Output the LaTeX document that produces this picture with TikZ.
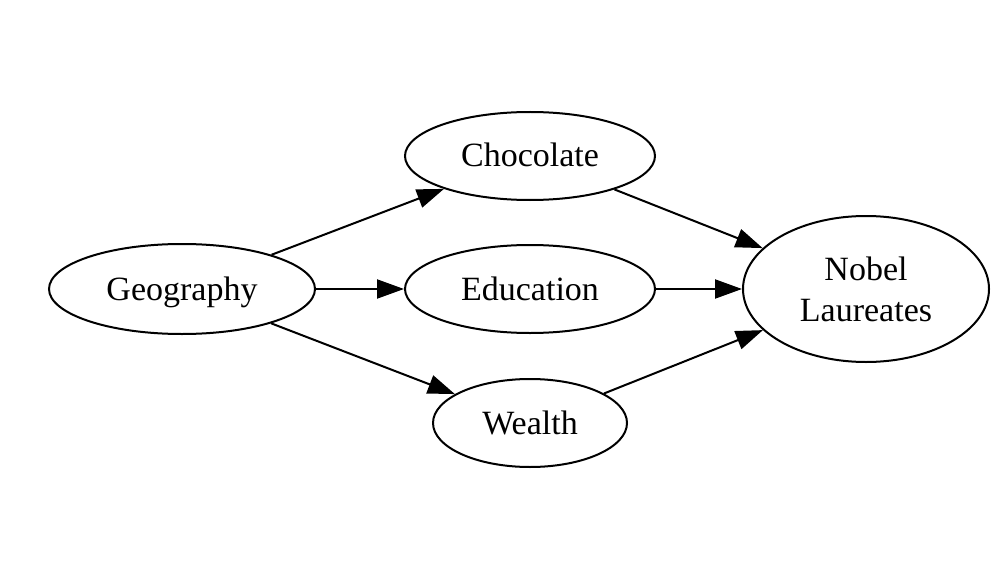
\documentclass[tikz,border=0pt]{standalone}
\usepackage{fontspec}
\setmainfont{Liberation Serif}
\usetikzlibrary{shapes.geometric,arrows.meta}
\begin{document}
\begin{tikzpicture}[x=1pt,y=-1pt,
  vnode/.style={draw,ellipse,line width=2pt,inner sep=0pt,align=center,
    font=\fontsize{34}{41}\selectfont},
  onel/.style={text height=23pt,text depth=1pt},
  edge/.style={line width=2pt,-{Triangle[length=27pt,width=19pt]}}]
\useasboundingbox (0,0) rectangle (1000,580);
\node[vnode,onel,minimum width=266pt,minimum height=90pt] (geo) at (182,289) {Geography};
\node[vnode,onel,minimum width=250pt,minimum height=88pt] (choc) at (530,156) {Chocolate};
\node[vnode,onel,minimum width=250pt,minimum height=88pt] (edu) at (530,289) {Education};
\node[vnode,onel,minimum width=194pt,minimum height=88pt] (wea) at (530,423) {Wealth};
\node[vnode,minimum width=246pt,minimum height=146pt] (nob) at (866,289) {Nobel\\Laureates};
\draw[edge] (geo) -- (choc);
\draw[edge] (geo) -- (edu);
\draw[edge] (geo) -- (wea);
\draw[edge] (choc) -- (nob);
\draw[edge] (edu) -- (nob);
\draw[edge] (wea) -- (nob);
\end{tikzpicture}
\end{document}
